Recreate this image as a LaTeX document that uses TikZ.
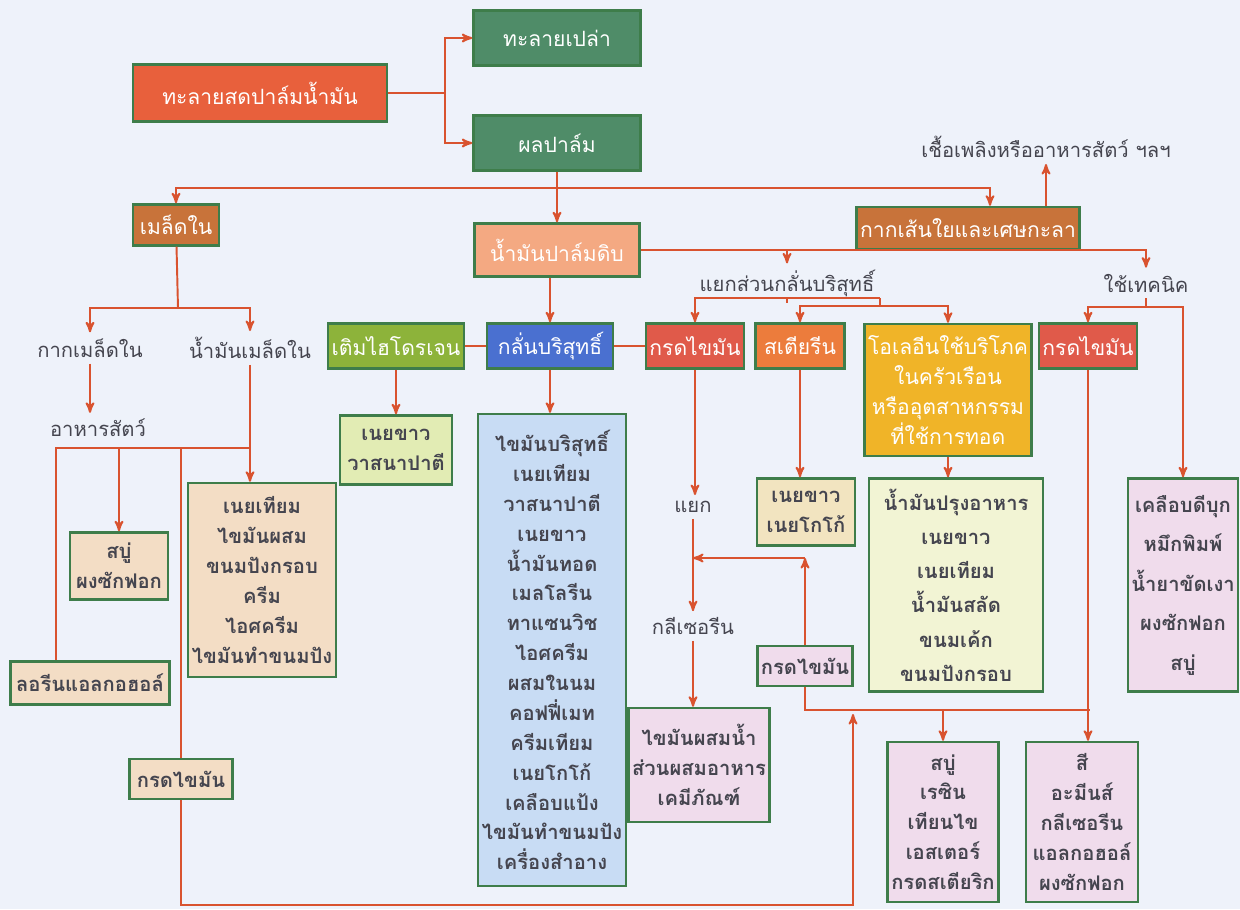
\documentclass[tikz,border=0pt]{standalone}
\usepackage{fontspec}
\newfontfamily\thai[Script=Thai]{Loma}
\usetikzlibrary{arrows}

\definecolor{bgcol}{HTML}{EEF2FA}
\definecolor{linecol}{HTML}{D9532F}
\definecolor{boxline}{HTML}{3E7D4A}
\definecolor{txt}{HTML}{45454F}
\definecolor{redor}{HTML}{E8603C}
\definecolor{palmgreen}{HTML}{4F8C68}
\definecolor{brownor}{HTML}{C8733A}
\definecolor{salmon}{HTML}{F4A982}
\definecolor{leaf}{HTML}{8DB33A}
\definecolor{royal}{HTML}{4A70D0}
\definecolor{fatred}{HTML}{E05A4A}
\definecolor{stearinor}{HTML}{EC7C3C}
\definecolor{gold}{HTML}{F0B428}
\definecolor{beige}{HTML}{F3DDC5}
\definecolor{lime}{HTML}{E2ECB4}
\definecolor{sky}{HTML}{C8DCF4}
\definecolor{tan}{HTML}{F2E4C0}
\definecolor{cream}{HTML}{F2F4D4}
\definecolor{lilac}{HTML}{F0DCEC}

\begin{document}
\begin{tikzpicture}[
                            x=0.02cm,y=-0.02cm,
                            ->,
                            >=stealth',
                            draw=linecol,
                            line width=1.1pt,
                            font=\thai\fontsize{11.5}{17}\selectfont
                        ]
                        \tikzstyle{box}=[draw=boxline,line width=1.4pt,align=center,inner sep=2pt]
                        \tikzstyle{solid box}=[box,text=white,font=\thai\fontsize{12}{17}\selectfont]
                        \tikzstyle{list box}=[box,text=txt,font=\thai\bfseries\fontsize{11.5}{17}\selectfont]
                        \tikzstyle{plain}=[text=txt,inner sep=3pt]

                        \fill[bgcol] (0,0) rectangle (1240,909);

                        % raw material
                        \node[solid box,fill=redor,minimum width=5.08cm,minimum height=1.14cm]    (bunch)   at (260,93)  {ทะลายสดปาล์มน้ำมัน};
                        \node[solid box,fill=palmgreen,minimum width=3.34cm,minimum height=1.1cm] (empty)   at (557,38)  {ทะลายเปล่า};
                        \node[solid box,fill=palmgreen,minimum width=3.34cm,minimum height=1.1cm] (fruit)   at (557,143) {ผลปาล์ม};
                        \node[solid box,fill=brownor,minimum width=1.72cm,minimum height=0.82cm]  (kernel)  at (176,225) {เมล็ดใน};
                        \node[solid box,fill=salmon,minimum width=3.3cm,minimum height=1.06cm]    (crude)   at (557,250) {น้ำมันปาล์มดิบ};
                        \node[solid box,fill=brownor,minimum width=4.46cm,minimum height=0.84cm]  (fiber)   at (968,228) {กากเส้นใยและเศษกะลา};
                        \node[plain] (fuel)  at (1046,147) {เชื้อเพลิงหรืออาหารสัตว์ ฯลฯ};

                        % kernel side
                        \node[plain] (kcake) at (90,348)  {กากเมล็ดใน};
                        \node[plain] (koil)  at (250,348) {น้ำมันเมล็ดใน};
                        \node[plain] (feed)  at (98,428)  {อาหารสัตว์};
                        \node[list box,fill=beige,minimum width=1.96cm,minimum height=1.34cm] (soap1)  at (119,566) {สบู่\\ผงซักฟอก};
                        \node[list box,fill=beige,minimum width=3.18cm,minimum height=0.86cm] (lauryl) at (90,683)  {ลอรีนแอลกอฮอล์};
                        \node[list box,fill=beige,minimum width=2.84cm,minimum height=3.88cm] (margbox) at (262,580)
                            {เนยเทียม\\ไขมันผสม\\ขนมปังกรอบ\\ครีม\\ไอศครีม\\ไขมันทำขนมปัง};
                        \node[list box,fill=beige,minimum width=2.06cm,minimum height=0.8cm]  (fa1)    at (181,779) {กรดไขมัน};

                        % processing row
                        \node[solid box,fill=leaf,minimum width=2.5cm,minimum height=0.9cm]       (hydro)   at (396,346)  {เติมไฮโดรเจน};
                        \node[solid box,fill=royal,minimum width=2.52cm,minimum height=0.9cm]     (refine)  at (550,346)  {กลั่นบริสุทธิ์};
                        \node[solid box,fill=fatred,minimum width=1.96cm,minimum height=0.9cm]    (fa2)     at (695,346)  {กรดไขมัน};
                        \node[solid box,fill=stearinor,minimum width=1.78cm,minimum height=0.9cm] (stearin) at (800,346)  {สเตียรีน};
                        \node[solid box,fill=gold,minimum width=3.28cm,minimum height=2.64cm]     (olein)   at (948,390)
                            {โอเลอีนใช้บริโภค\\ในครัวเรือน\\หรืออุตสาหกรรม\\ที่ใช้การทอด};
                        \node[solid box,fill=fatred,minimum width=1.96cm,minimum height=0.9cm]    (fa3)     at (1088,346) {กรดไขมัน};
                        \node[plain] (sep)  at (787,283)  {แยกส่วนกลั่นบริสุทธิ์};
                        \node[plain] (tech) at (1146,283) {ใช้เทคนิค};

                        % products
                        \node[list box,fill=lime,minimum width=2.24cm,minimum height=1.38cm] (hydrobox) at (396,450) {เนยขาว\\วาสนาปาตี};
                        \node[list box,fill=sky,minimum width=2.84cm,minimum height=9.44cm]  (refinebox) at (552,650)
                            {ไขมันบริสุทธิ์\\เนยเทียม\\วาสนาปาตี\\เนยขาว\\น้ำมันทอด\\เมลโลรีน\\ทาแซนวิช\\ไอศครีม\\ผสมในนม\\คอฟฟี่เมท\\ครีมเทียม\\เนยโกโก้\\เคลือบแป้ง\\ไขมันทำขนมปัง\\เครื่องสำอาง};
                        \node[plain] (split) at (693,507) {แยก};
                        \node[plain] (glyc)  at (693,626) {กลีเซอรีน};
                        \node[list box,fill=lilac,minimum width=2.72cm,minimum height=2.28cm] (mixbox) at (699,765)
                            {ไขมันผสมน้ำ\\ส่วนผสมอาหาร\\เคมีภัณฑ์};
                        \node[list box,fill=tan,minimum width=1.96cm,minimum height=1.34cm]   (cocoabox) at (806,512) {เนยขาว\\เนยโกโก้};
                        \node[list box,fill=lilac,minimum width=1.9cm,minimum height=0.8cm]   (fa4)      at (805,666) {กรดไขมัน};
                        \node[list box,fill=cream,minimum width=3.48cm,minimum height=4.26cm,
                              font=\thai\bfseries\fontsize{11.5}{19.5}\selectfont] (cookbox) at (956,585)
                            {น้ำมันปรุงอาหาร\\เนยขาว\\เนยเทียม\\น้ำมันสลัด\\ขนมเค้ก\\ขนมปังกรอบ};
                        \node[list box,fill=lilac,minimum width=2.18cm,minimum height=4.26cm,
                              font=\thai\bfseries\fontsize{11.5}{22.5}\selectfont] (technic) at (1183,585)
                            {เคลือบดีบุก\\หมึกพิมพ์\\น้ำยาขัดเงา\\ผงซักฟอก\\สบู่};
                        \node[list box,fill=lilac,minimum width=2.22cm,minimum height=3.2cm] (soap2) at (943,822)
                            {สบู่\\เรซิน\\เทียนไข\\เอสเตอร์\\กรดสเตียริก};
                        \node[list box,fill=lilac,minimum width=2.24cm,minimum height=3.2cm] (paint) at (1082,822)
                            {สี\\อะมีนส์\\กลีเซอรีน\\แอลกอฮอล์\\ผงซักฟอก};

                        % junctions
                        \coordinate (b1) at (445,93);
                        \coordinate (f1) at (557,188);
                        \coordinate (k1) at (178,308);
                        \coordinate (k2) at (250,448);
                        \coordinate (s1) at (880,298);
                        \coordinate (s2) at (880,306);
                        \coordinate (t1) at (1146,307);
                        \coordinate (j1) at (693,558);
                        \coordinate (j2) at (805,558);
                        \coordinate (m1) at (1090,710);
                        \coordinate (bot) at (853,905);
                        \coordinate (fain) at (853,714);

                        % bunch and fruit
                        \draw[-] (bunch) -- (b1);
                        \draw (b1) |- (empty);
                        \draw (b1) |- (fruit);
                        \draw[-] (fruit) -- (f1);
                        \draw (f1) -- (crude);
                        \draw (f1) -| (kernel);
                        \draw (f1) -| ([xshift=0.44cm]fiber.north);
                        \draw (fiber.north -| fuel) -- (fuel);

                        % kernel
                        \draw[-] (kernel) -- (k1);
                        \draw (k1) -| (kcake);
                        \draw (k1) -| (koil);
                        \draw (kcake) -- (kcake |- feed.north);
                        \draw (koil) -- (koil |- margbox.north);
                        \draw[-] (k2) -| ([xshift=-0.68cm]lauryl.north);
                        \draw (k2 -| soap1) -- (soap1);
                        \draw[-] (k2 -| fa1) -- (fa1);
                        \draw (fa1) |- (bot) -- (fain);

                        % crude oil
                        \draw (crude.south -| refine) -- (refine);
                        \draw (crude.east) -| (tech);
                        \draw (crude.east -| sep) -- (sep);
                        \draw[-] (sep.south) -- (sep.south |- s1);
                        \draw (s1) -| (fa2);
                        \draw[-] (s1) -- (s2);
                        \draw (s2) -| (stearin);
                        \draw (s2) -| (olein);
                        \draw[-] (tech) -- (t1);
                        \draw (t1) -| (fa3);
                        \draw (t1) -| (technic);
                        \draw[-] (hydro) -- (refine);
                        \draw[-] (refine) -- (fa2);

                        % products
                        \draw (hydro) -- (hydrobox);
                        \draw (refine) -- (refine |- refinebox.north);
                        \draw (stearin) -- (stearin |- cocoabox.north);
                        \draw (olein) -- (olein |- cookbox.north);
                        \draw (fa2) -- (fa2 |- split.north);
                        \draw (split) -- (glyc);
                        \draw (glyc) -- (glyc |- mixbox.north);
                        \draw (fa4) -- (j2);
                        \draw (j2) -- (j1);
                        \draw[-] (fa4) |- (m1);
                        \draw (m1 -| soap2) -- (soap2);
                        \draw (fa3) -- (fa3 |- paint.north);
                    \end{tikzpicture}
\end{document}
